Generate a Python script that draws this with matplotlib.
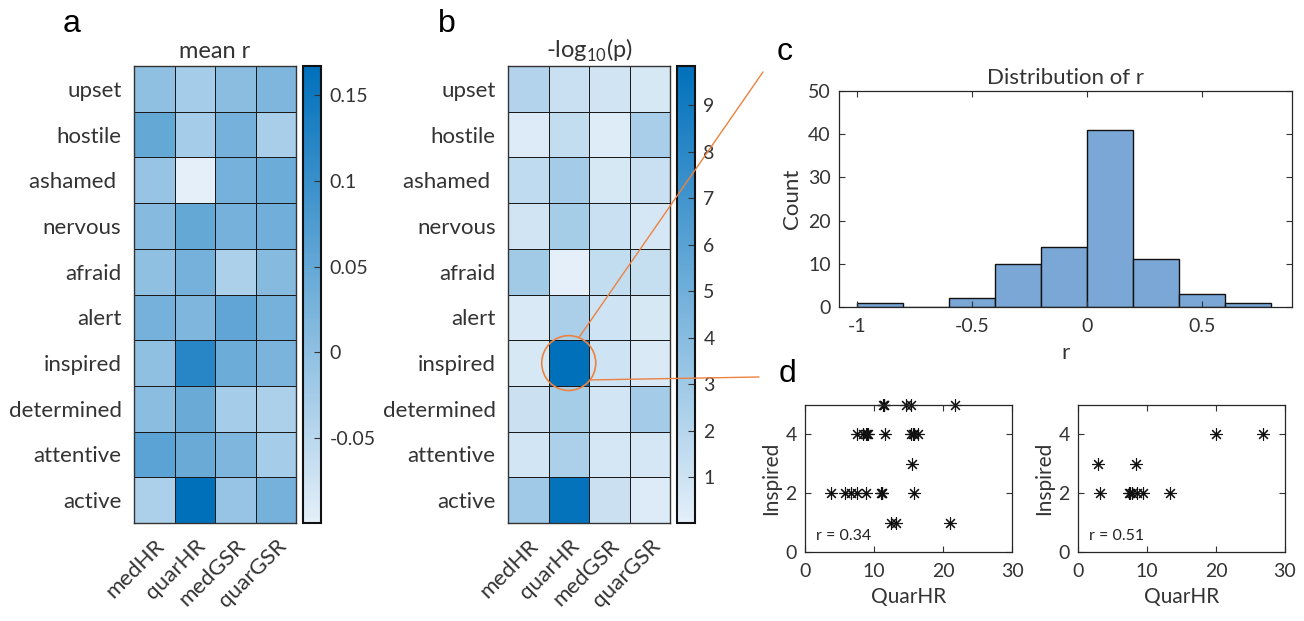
import numpy as np
import matplotlib
matplotlib.use('Agg')
import matplotlib.pyplot as plt
from matplotlib.colors import LinearSegmentedColormap
from matplotlib.patches import Ellipse, ConnectionPatch

plt.rcParams['font.family'] = ['Lato', 'DejaVu Sans']
plt.rcParams['mathtext.fontset'] = 'custom'
plt.rcParams['mathtext.rm'] = 'Lato'
plt.rcParams['text.color'] = '#333333'
plt.rcParams['axes.labelcolor'] = '#333333'
plt.rcParams['xtick.color'] = '#333333'
plt.rcParams['ytick.color'] = '#333333'

# data
emotions = ['upset', 'hostile', 'ashamed ', 'nervous', 'afraid', 'alert',
            'inspired', 'determined', 'attentive', 'active']
measures = ['medHR', 'quarHR', 'medGSR', 'quarGSR']

mean_r = np.array([
    [0.000, -0.025, 0.005, 0.020],
    [0.050, -0.025, 0.030, -0.030],
    [-0.010, -0.0996, 0.030, 0.040],
    [0.010, 0.050, 0.030, 0.035],
    [0.000, 0.030, -0.035, 0.010],
    [0.030, 0.020, 0.055, 0.030],
    [0.000, 0.120, 0.040, 0.025],
    [0.005, 0.045, -0.025, -0.035],
    [0.060, 0.045, 0.020, -0.025],
    [-0.035, 0.167, -0.010, 0.030],
])

neglogp = np.array([
    [2.2, 1.2, 0.9, 0.6],
    [0.4, 1.5, 0.3, 2.6],
    [1.6, 2.8, 0.6, 1.2],
    [0.9, 2.7, 1.2, 0.7],
    [2.9, 0.02, 1.5, 1.4],
    [0.5, 2.5, 1.0, 0.6],
    [0.6, 9.84, 1.0, 0.5],
    [1.1, 2.7, 0.8, 2.8],
    [0.8, 2.4, 0.7, 0.7],
    [3.0, 9.6, 1.1, 0.4],
])

r_bin_edges = [-1.0, -0.8, -0.6, -0.4, -0.2, 0.0, 0.2, 0.4, 0.6, 0.8]
r_counts = [1, 0, 2, 10, 14, 41, 11, 3, 1]

quarhr_1 = [11.3, 11.4, 11.5, 14.6, 15.3, 21.7,
            7.6, 8.4, 8.8, 9.0, 9.1, 11.6, 15.4, 15.7, 15.8, 16.4,
            15.5,
            3.7, 5.8, 6.6, 7.6, 8.9, 11.0, 11.1, 11.2, 15.8,
            12.5, 13.2, 21.0]
inspired_1 = [5, 5, 5, 5, 5, 5,
              4, 4, 4, 4, 4, 4, 4, 4, 4, 4,
              3,
              2, 2, 2, 2, 2, 2, 2, 2, 2,
              1, 1, 1]

quarhr_2 = [20.0, 26.8, 2.9, 8.4, 3.2, 7.35, 7.6, 7.8, 8.6, 9.4, 13.3]
inspired_2 = [4, 4, 3, 3, 2, 2, 2, 2, 2, 2, 2]

cmap = LinearSegmentedColormap.from_list('lightblue', ['#e4eff9', '#0070bb'])
orange = '#ec8240'
W, H = 1304, 621

fig = plt.figure(figsize=(13.04, 6.21), dpi=100)


def heatmap(left, values, title, cticks, clabels):
    ax = fig.add_axes([left / W, 98 / H, 162 / W, 457 / H])
    mesh = ax.pcolormesh(np.arange(len(measures) + 1), np.arange(len(emotions) + 1), values,
                         cmap=cmap, edgecolors='#1a1a1a', linewidth=0.7)
    ax.set_xlim(0, len(measures))
    ax.set_ylim(len(emotions), 0)
    ax.set_xticks(np.arange(len(measures)) + 0.5)
    ax.set_xticklabels(measures, rotation=45, ha='right', va='top',
                       rotation_mode='anchor', fontsize=16)
    ax.set_yticks(np.arange(len(emotions)) + 0.5)
    ax.set_yticklabels(emotions, fontsize=16)
    ax.tick_params(length=0, pad=9)
    for s in ax.spines.values():
        s.set_color('#333333')
        s.set_linewidth(1.0)
    ax.set_title(title, fontsize=17, pad=6)
    cax = fig.add_axes([(left + 169) / W, 98 / H, 18 / W, 457 / H])
    cb = fig.colorbar(mesh, cax=cax)
    cb.set_ticks(cticks)
    cb.set_ticklabels(clabels)
    cax.tick_params(direction='in', length=5, width=0.8, labelsize=14, pad=6)
    cb.outline.set_linewidth(1.5)
    cb.outline.set_edgecolor('#111111')
    return ax


ax_a = heatmap(134, mean_r, 'mean r', [-0.05, 0, 0.05, 0.1, 0.15],
               ['-0.05', '0', '0.05', '0.1', '0.15'])
ax_b = heatmap(508, neglogp, r'-log$_{10}$(p)', list(range(1, 10)),
               [str(i) for i in range(1, 10)])

# highlight circle and connector lines
cx, cy = 1.5, 6.5
ea, eb = 0.667, 0.6
ax_b.add_patch(Ellipse((cx, cy), 2 * ea, 2 * eb, fill=False, edgecolor=orange,
                       linewidth=1.2, clip_on=False, zorder=5))
for ang, end in [(68, (763 / W, 1 - 72 / H)), (-38, (759 / W, 1 - 377 / H))]:
    t = np.deg2rad(ang)
    start = (cx + ea * np.cos(t), cy - eb * np.sin(t))
    con = ConnectionPatch(xyA=start, coordsA=ax_b.transData, xyB=end,
                          coordsB=fig.transFigure, color=orange, linewidth=1.0)
    fig.add_artist(con)


def matlab_axes(ax, size):
    ax.tick_params(direction='in', top=True, right=True, length=4, width=0.8,
                   labelsize=size)
    ax.tick_params(axis='x', pad=8)
    ax.tick_params(axis='y', pad=6)
    for s in ax.spines.values():
        s.set_color('#262626')
        s.set_linewidth(0.9)


# histogram
ax_c = fig.add_axes([839 / W, 314 / H, 453 / W, 216 / H])
ax_c.hist(r_bin_edges[:-1], bins=r_bin_edges, weights=r_counts,
          color='#7aa7d6', edgecolor='#111111', linewidth=1.0)
ax_c.set_xlim(-1.08, 0.89)
ax_c.set_ylim(0, 50)
ax_c.set_xticks([-1, -0.5, 0, 0.5])
ax_c.set_xticklabels(['-1', '-0.5', '0', '0.5'])
ax_c.set_yticks([0, 10, 20, 30, 40, 50])
matlab_axes(ax_c, 14)
ax_c.set_title('Distribution of r', fontsize=16, pad=5)
ax_c.set_xlabel('r', fontsize=16, labelpad=6)
ax_c.set_ylabel('Count', fontsize=16, labelpad=4)

# scatter plots
asterisk = (8, 2, 0)
for left, xs, ys, rtext in [(805, quarhr_1, inspired_1, 'r = 0.34'),
                            (1078, quarhr_2, inspired_2, 'r = 0.51')]:
    ax = fig.add_axes([left / W, 69 / H, 207 / W, 147 / H])
    ax.plot(xs, ys, linestyle='none', marker=asterisk, markersize=9,
            markeredgewidth=0.8, color='#111111', clip_on=False)
    ax.set_xlim(0, 30)
    ax.set_ylim(0, 5)
    ax.set_xticks([0, 10, 20, 30])
    ax.set_yticks([0, 2, 4])
    matlab_axes(ax, 14)
    ax.set_xlabel('QuarHR', fontsize=15, labelpad=5)
    ax.set_ylabel('Inspired', fontsize=15, labelpad=3)
    ax.text(1.6, 0.55, rtext, fontsize=11.5, color='#222222', va='center')

# panel letters
for letter, x, y in [('a', 72, 24), ('b', 447, 24), ('c', 785, 52), ('d', 787, 374)]:
    fig.text(x / W, 1 - y / H, letter, fontsize=23, family='Liberation Sans',
             color='black', ha='center', va='center')

fig.savefig('out.png', dpi=100)
